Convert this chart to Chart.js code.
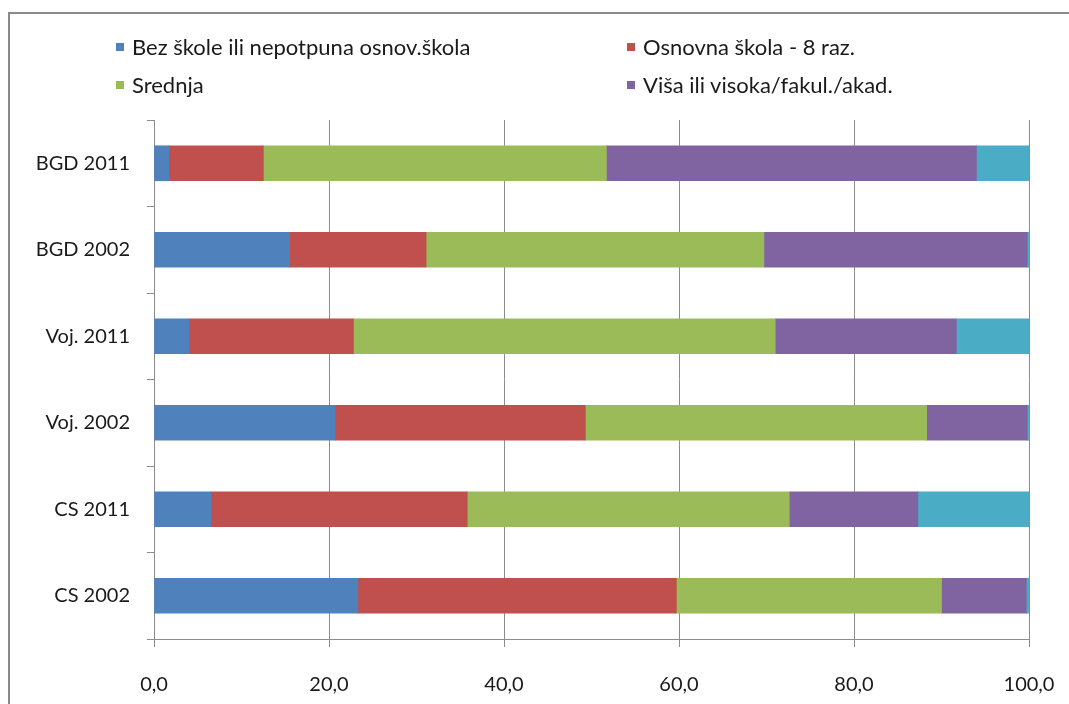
<!DOCTYPE html>
<html lang="sr">
<head>
  <meta charset="UTF-8" />
  <title>Obrazovna struktura</title>
  <script src="https://cdn.jsdelivr.net/npm/chart.js"></script>
  <style>
    body { margin: 0; background: #fff; font-family: Lato, 'Open Sans', Arial, sans-serif; }
    .wrap { position: relative; width: 1069px; height: 704px; overflow: hidden; }
    .frame { position: absolute; left: 8px; top: 12px; width: 1200px; height: 800px; border-left: 2px solid #8a8a8a; border-top: 2px solid #8a8a8a; }
    canvas { position: absolute; left: 0; top: 0; }
    .legend { position: absolute; left: 0; top: 0; width: 1069px; height: 110px; font-size: 22px; color: #1a1a1a; }
    .item { position: absolute; display: flex; align-items: center; white-space: nowrap; line-height: 24px; }
    .box { width: 8px; height: 8px; margin-right: 8px; }
  </style>
</head>
<body>
  <div class="wrap">
    <div class="frame"></div>
    <canvas id="c" width="1069" height="704"></canvas>
    <div class="legend" id="legend"></div>
  </div>
  <script>
    const categories = ['BGD 2011', 'BGD 2002', 'Voj. 2011', 'Voj. 2002', 'CS 2011', 'CS 2002'];
    const seriesNames = ['Bez škole ili nepotpuna osnov.škola', 'Osnovna škola - 8 raz.', 'Srednja', 'Viša ili visoka/fakul./akad.', 'Nepoznato'];
    const colors = ['#4F81BD', '#C0504D', '#9BBB59', '#8064A2', '#4BACC6'];
    const bezSkole = [1.7, 15.5, 4.0, 20.7, 6.5, 23.3];
    const osnovna = [10.8, 15.6, 18.8, 28.6, 29.3, 36.4];
    const srednja = [39.2, 38.6, 48.2, 39.0, 36.8, 30.3];
    const visa = [42.3, 30.1, 20.7, 11.5, 14.7, 9.7];
    const nepoznato = [6.0, 0.2, 8.3, 0.2, 12.7, 0.3];
    const xTicks = [0, 20, 40, 60, 80, 100];

    const values = [bezSkole, osnovna, srednja, visa, nepoznato];
    const shownInLegend = [true, true, true, true, false];

    // legend in two columns, like the original
    const legendPos = [[116, 35], [627, 35], [116, 73], [627, 73]];
    const legendEl = document.getElementById('legend');
    seriesNames.forEach((name, i) => {
      if (!shownInLegend[i]) return;
      const it = document.createElement('div');
      it.className = 'item';
      it.style.left = legendPos[i][0] + 'px';
      it.style.top = legendPos[i][1] + 'px';
      it.innerHTML = '<span class="box" style="background:' + colors[i] + '"></span><span>' + name + '</span>';
      legendEl.appendChild(it);
    });

    const gridColor = '#8c8c8c';
    const tickFont = { family: "Lato, 'Open Sans', Arial, sans-serif", size: 20 };

    new Chart(document.getElementById('c'), {
      type: 'bar',
      data: {
        labels: categories,
        datasets: values.map((v, i) => ({
          label: seriesNames[i],
          data: v,
          backgroundColor: colors[i],
          borderWidth: 0,
          barThickness: 35
        }))
      },
      options: {
        indexAxis: 'y',
        responsive: false,
        animation: false,
        layout: { padding: { left: 0, right: 40, top: 120, bottom: 0 } },
        plugins: { legend: { display: false }, tooltip: { enabled: false } },
        scales: {
          x: {
            stacked: true,
            min: 0, max: 100,
            afterBuildTicks: s => { s.ticks = xTicks.map(v => ({ value: v })); },
            ticks: {
              color: '#1a1a1a', font: tickFont, padding: 26, maxRotation: 0,
              callback: v => Number(v).toFixed(1).replace('.', ',')
            },
            grid: { color: gridColor, tickLength: 8 },
            border: { color: gridColor },
            afterFit: s => { s.height = 65; s.paddingLeft = 0; s.paddingRight = 0; }
          },
          y: {
            stacked: true,
            ticks: { color: '#1a1a1a', font: tickFont, padding: 17 },
            grid: { drawOnChartArea: false, offset: true, tickLength: 7, color: gridColor },
            border: { color: gridColor },
            afterFit: s => { s.width = 154; s.paddingTop = 0; s.paddingBottom = 0; }
          }
        }
      }
    });
  </script>
</body>
</html>
